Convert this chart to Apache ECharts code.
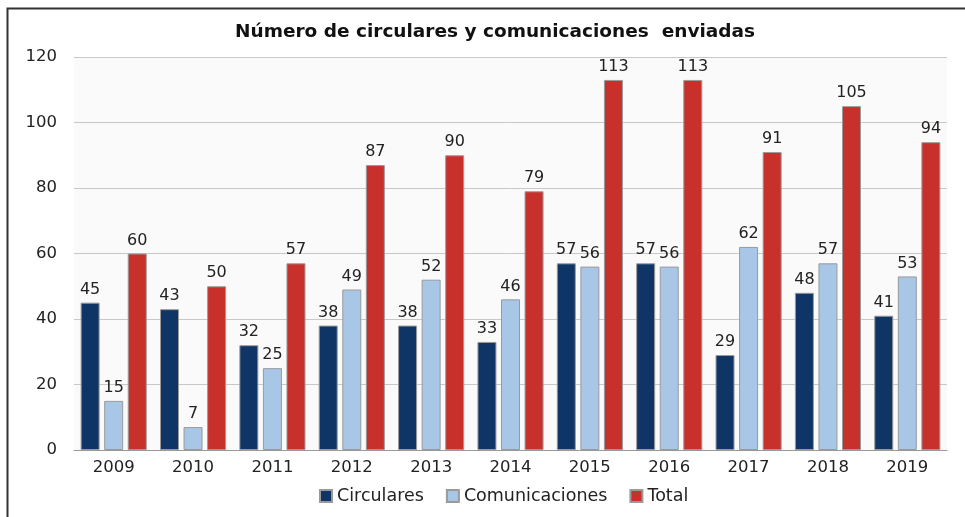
<!DOCTYPE html>
<html><head><meta charset="utf-8">
<script src="https://cdn.jsdelivr.net/npm/echarts@6/dist/echarts.min.js"></script>
<style>html,body{margin:0;padding:0;background:#fff}#c{width:965px;height:517px}</style>
</head><body><div id="c"></div>
<script>
const years = ['2009','2010','2011','2012','2013','2014','2015','2016','2017','2018','2019'];
const circulares = [45,43,32,38,38,33,57,57,29,48,41];
const comunicaciones = [15,7,25,49,52,46,56,56,62,57,53];
const total = [60,50,57,87,90,79,113,113,91,105,94];
const yTicks = [0,20,40,60,80,100,120];

const chart = echarts.init(document.getElementById('c'));
const font = 'DejaVu Sans';
const lbl = {show:true, position:'top', color:'#222', fontFamily:font, fontSize:16, distance:5};
function s(name, data, color){
  return {name, type:'bar', data, barWidth:19, barGap:'24%',
    itemStyle:{color, borderColor:'#9a9a9a', borderWidth:1}, label:lbl};
}
chart.setOption({
  animation:false,
  textStyle:{fontFamily:font},
  graphic:[{type:'rect', shape:{x:7.5,y:8.5,width:1000,height:600}, style:{fill:'none', stroke:'#333', lineWidth:2}}],
  title:{text:'Número de circulares y comunicaciones  enviadas', left:490, top:18, textAlign:'center',
    textStyle:{fontFamily:font, fontSize:18.5, fontWeight:'bold', color:'#111'}},
  legend:{bottom:7, left:314, itemWidth:12, itemHeight:12, itemGap:22,
    textStyle:{fontFamily:font, fontSize:17.5, color:'#222'}, icon:'rect'},
  grid:{left:74, right:18, top:57, bottom:67, show:true, backgroundColor:'#fafafa', borderWidth:0},
  xAxis:{type:'category', data:years, axisTick:{show:false},
    axisLine:{lineStyle:{color:'#999'}},
    axisLabel:{color:'#222', fontSize:16.5, fontFamily:font, margin:9}},
  yAxis:{type:'value', min:yTicks[0], max:yTicks[yTicks.length-1], interval:20,
    axisLine:{show:false}, axisTick:{show:false},
    splitLine:{lineStyle:{color:'#c8c8c8'}},
    axisLabel:{color:'#222', fontSize:16.5, fontFamily:font, margin:17}},
  series:[s('Circulares',circulares,'#0e3566'), s('Comunicaciones',comunicaciones,'#a8c6e6'), s('Total',total,'#c8302c')]
});
</script></body></html>
